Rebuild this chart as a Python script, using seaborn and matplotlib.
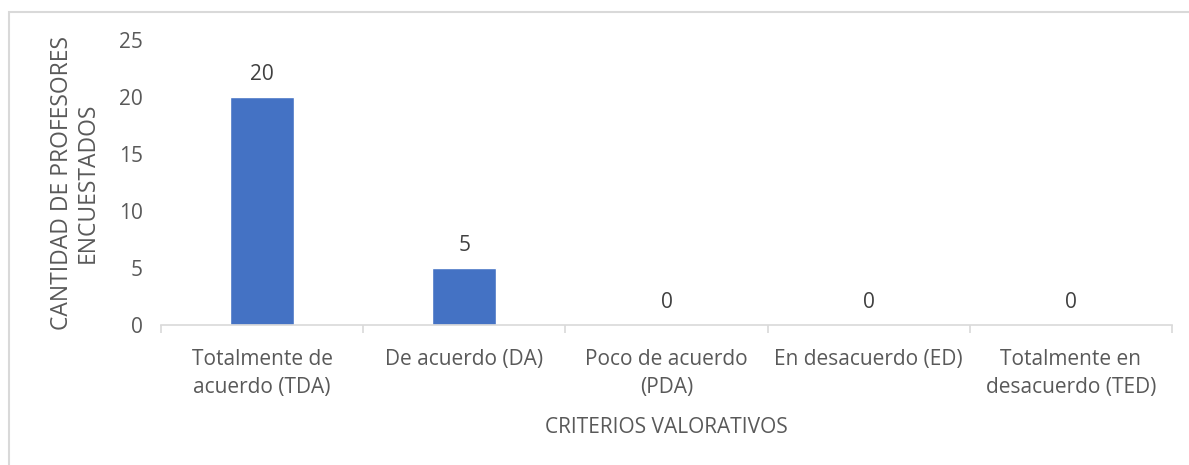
import matplotlib
matplotlib.use("Agg")
import matplotlib.pyplot as plt
from matplotlib.patches import Rectangle
import seaborn as sns
import pandas as pd

categorias = ["Totalmente de\nacuerdo (TDA)", "De acuerdo (DA)", "Poco de acuerdo\n(PDA)",
              "En desacuerdo (ED)", "Totalmente en\ndesacuerdo (TED)"]
profesores = [20, 5, 0, 0, 0]
y_ticks = [0, 5, 10, 15, 20, 25]

sns.set_theme(style="white")
plt.rcParams["font.family"] = ["Open Sans", "DejaVu Sans"]
texto = "#595959"
fs = 15

df = pd.DataFrame({"criterio": categorias, "cantidad": profesores})

fig = plt.figure(figsize=(11.89, 4.65), dpi=100)
ax = fig.add_axes([161 / 1189, 1 - 325 / 465, (1172 - 161) / 1189, (325 - 40) / 465])

sns.barplot(data=df, x="criterio", y="cantidad", color="#4472C4", width=0.315,
            saturation=1, ax=ax)

ax.set_ylim(0, 25)
ax.set_xlim(-0.5, len(categorias) - 0.5)
ax.set_yticks(y_ticks)
ax.tick_params(axis="y", length=0, labelsize=fs, labelcolor=texto, pad=13)
ax.tick_params(axis="x", which="major", length=0, labelsize=fs, labelcolor=texto, pad=17)
for lbl in ax.get_xticklabels():
    lbl.set_linespacing(1.45)
ax.set_xticks([i - 0.5 for i in range(len(categorias) + 1)], minor=True)
ax.tick_params(axis="x", which="minor", length=6, width=1.2, color="#D9D9D9", bottom=True)

for s in ["top", "right", "left"]:
    ax.spines[s].set_visible(False)
ax.spines["bottom"].set_color("#D9D9D9")
ax.spines["bottom"].set_linewidth(1.2)

for i, v in enumerate(profesores):
    ax.annotate(str(v), (i, v), xytext=(0, 9), textcoords="offset points",
                ha="center", va="bottom", fontsize=fs, color="#404040")

ax.set_xlabel("CRITERIOS VALORATIVOS", fontsize=fs, color=texto, labelpad=14)
ax.set_ylabel("CANTIDAD DE PROFESORES\nENCUESTADOS", fontsize=16.5, color=texto,
              labelpad=14, linespacing=1.1)

fig.patches.append(Rectangle((8.5 / 1189, -0.05), 1.1, 1 - 12.5 / 465 + 0.05,
                             transform=fig.transFigure, fill=False,
                             edgecolor="#D9D9D9", linewidth=1.5))

fig.savefig("out.png", dpi=100, facecolor="white")
